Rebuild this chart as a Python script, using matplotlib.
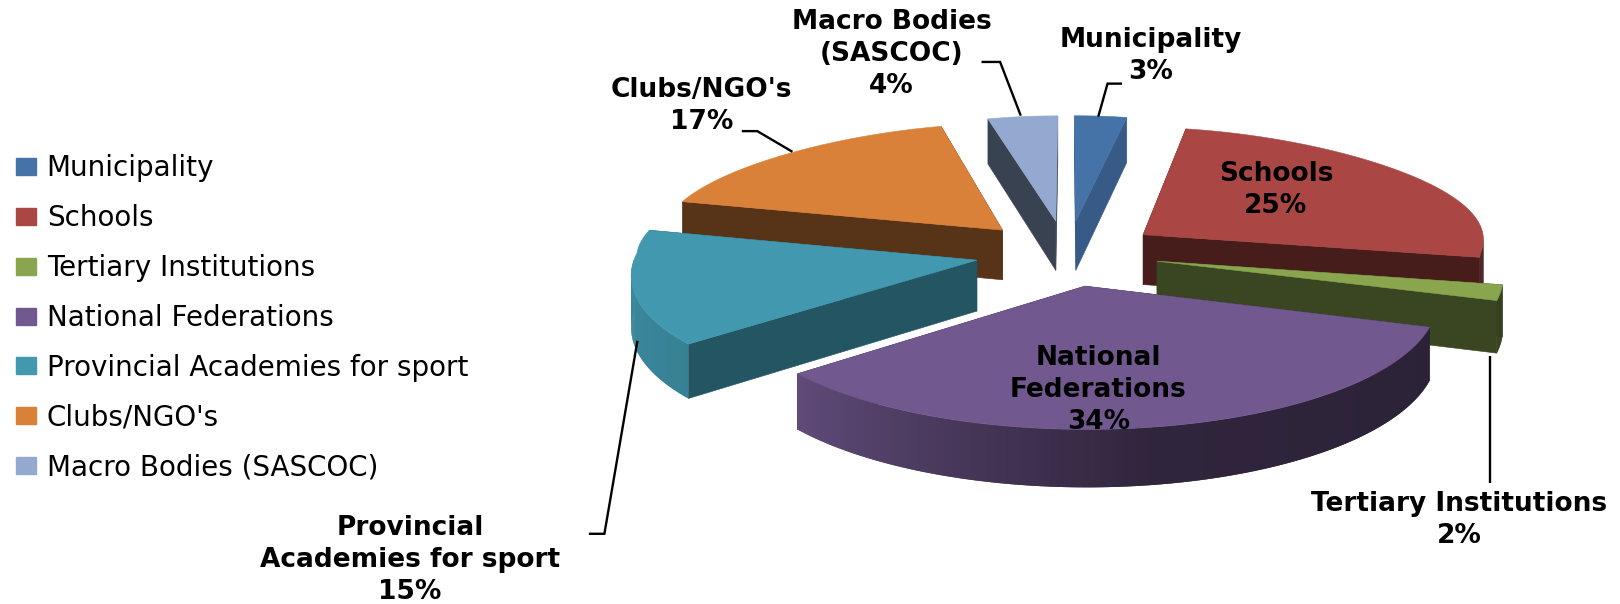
import matplotlib
matplotlib.use("Agg")
import matplotlib.pyplot as plt
from matplotlib.patches import Polygon, Patch
from matplotlib.colors import to_rgb
import numpy as np

# data, clockwise from 12 o'clock
names = ["Municipality", "Schools", "Tertiary Institutions", "National Federations",
         "Provincial Academies for sport", "Clubs/NGO's", "Macro Bodies (SASCOC)"]
values = [3, 25, 2, 34, 15, 17, 4]
label_names = ["Municipality", "Schools", "Tertiary Institutions", "National\nFederations",
               "Provincial\nAcademies for sport", "Clubs/NGO's", "Macro Bodies\n(SASCOC)"]

# style
colors = ["#4572A7", "#AA4643", "#89A54E", "#71588F", "#4198AF", "#D98039", "#93A9CF"]
face_shade = [0.8, 0.41, 0.42, 0.4, 0.56, 0.4, 0.39]
draw_order = [6, 0, 5, 1, 2, 3, 4]
label_pos = [(1114, 54), (1235, 184), (1412, 504), (1063, 378), (397, 542), (679, 103), (863, 52)]
leaders = [[(1063, 113), (1072, 81), (1086, 81)],
           [(1442, 345), (1442, 468)],
           [(617, 330), (585, 517), (570, 517)],
           [(767, 147), (733, 127), (718, 127)],
           [(988, 112), (968, 60), (950, 60)]]

# perspective of the tilted pie, in the 1568 wide view of the picture
cx, cy = 1033, 245
A, B, C, k, kx = 330, 118, 49, 0.10, 0.14
explode = 0.27


def project(X, Y, Z=0):
    w = 1 + k * Y
    wx = 1 + kx * Y * Y if Y > 0 else w
    return cx + A * X / wx, cy - B * Y / w + C * Z / w


def shade(color, f):
    return tuple(c * f for c in to_rgb(color))


def wall_shade(a):
    return np.interp(a, [90, 170, 230, 270], [0.38, 0.42, 0.85, 0.9])


fig = plt.figure(figsize=(16.2, 6.04), dpi=100)
ax = fig.add_axes([0, 0, 1, 1])
ax.set_xlim(0, 1568)
ax.set_ylim(585, 0)
ax.axis("off")

edges = np.cumsum([0] + values) / sum(values) * 360.0

for i in draw_order:
    a0, a1 = edges[i], edges[i + 1]
    mid = np.radians((a0 + a1) / 2)
    ox, oy = explode * np.sin(mid), explode * np.cos(mid)
    angles = np.linspace(a0, a1, int(a1 - a0) * 2 + 2)
    rad = np.radians(angles)
    xs = ox + np.sin(rad)
    ys = oy + np.cos(rad)

    top = [project(ox, oy)] + [project(x, y) for x, y in zip(xs, ys)]
    low_apex = project(ox, oy, 1)
    for x, y in [(xs[0], ys[0]), (xs[-1], ys[-1])]:
        fc = shade(colors[i], face_shade[i])
        ax.add_patch(Polygon([project(ox, oy), project(x, y), project(x, y, 1), low_apex],
                             closed=True, fc=fc, ec=fc, lw=0.4))

    # outer wall, only the part turned to the viewer; quads overlap so no seams show
    for j in range(len(angles) - 1):
        if 90 <= angles[j] <= 270:
            n = min(j + 2, len(angles) - 1)
            fc = shade(colors[i], wall_shade(angles[j]))
            quad = [project(xs[m], ys[m]) for m in range(j, n + 1)]
            quad += [project(xs[m], ys[m], 1) for m in range(n, j - 1, -1)]
            ax.add_patch(Polygon(quad, closed=True, fc=fc, ec="none", lw=0))

    ax.add_patch(Polygon(top, closed=True, fc=colors[i], ec=colors[i], lw=0.4))

for line in leaders:
    ax.plot([p[0] for p in line], [p[1] for p in line], color="black", lw=1.7,
            solid_capstyle="butt", solid_joinstyle="miter")

for i in range(len(values)):
    ax.text(label_pos[i][0], label_pos[i][1], "%s\n%d%%" % (label_names[i], values[i]),
            ha="center", va="center", fontsize=19, fontweight="bold", linespacing=1.3,
            color="black")

handles = [Patch(fc=c, ec=c) for c in colors]
ax.legend(handles, names, loc="upper left", bbox_to_anchor=(0.0, 0.77), frameon=False,
          fontsize=20, labelcolor="black", handlelength=0.75, handleheight=0.56,
          handletextpad=0.37, labelspacing=0.785, borderpad=0, borderaxespad=0.56)

fig.savefig("out.png", dpi=100)
